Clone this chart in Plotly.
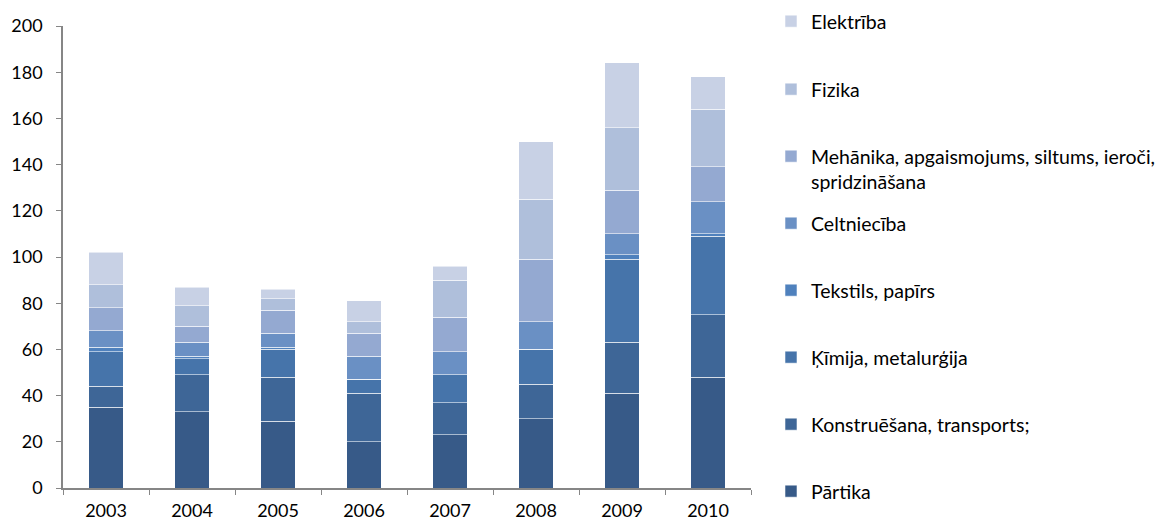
import plotly.graph_objects as go

years = ["2003", "2004", "2005", "2006", "2007", "2008", "2009", "2010"]

partika = [35, 33, 29, 20, 23, 30, 41, 48]
konstruesana = [9, 16, 19, 21, 14, 15, 22, 27]
kimija = [15, 7, 12, 6, 12, 15, 36, 34]
tekstils = [2, 1, 1, 0, 0, 0, 2, 1]
celtnieciba = [7, 6, 6, 10, 10, 12, 9, 14]
mehanika = [10, 7, 10, 10, 15, 27, 19, 15]
fizika = [10, 9, 5, 5, 16, 26, 27, 25]
elektriba = [14, 8, 4, 9, 6, 25, 28, 14]

series = [
    ("Pārtika", partika, "#375a88"),
    ("Konstruēšana, transports;", konstruesana, "#3e6697"),
    ("Ķīmija, metalurģija", kimija, "#4674aa"),
    ("Tekstils, papīrs", tekstils, "#4f81bd"),
    ("Celtniecība", celtnieciba, "#6a90c4"),
    ("Mehānika, apgaismojums, siltums, ieroči,<br>spridzināšana", mehanika, "#94a9d1"),
    ("Fizika", fizika, "#afbfdb"),
    ("Elektrība", elektriba, "#c8d1e5"),
]

# vertical centre of each legend entry's first line, in pixels from the top
legend_rows = [491, 424, 357, 290, 223, 156, 89, 21]

W, H = 1167, 525
FONT = "Lato, 'Open Sans', sans-serif"
FS = 18
LEGEND_FS = 19.5
plot_top, plot_bottom = 26, 488

fig = go.Figure()
legends = {}
for i, ((name, vals, color), row) in enumerate(zip(series, legend_rows)):
    key = "legend" if i == 0 else f"legend{i + 1}"
    fig.add_trace(go.Bar(
        x=years, y=vals, name=name, legend=key,
        marker=dict(color=color, line=dict(color="rgba(255,255,255,0.55)", width=1)),
    ))
    legends[key] = dict(
        xref="container", yref="container",
        x=771 / W, xanchor="left",
        y=1 - (row - 19) / H, yanchor="top",
        valign="top",
        bgcolor="rgba(0,0,0,0)",
        font=dict(family=FONT, size=LEGEND_FS, color="#000000"),
        itemwidth=30,
    )

fig.update_layout(
    barmode="stack",
    bargap=0.6,
    width=W, height=H,
    margin=dict(l=63, r=416, t=plot_top, b=H - plot_bottom, autoexpand=False),
    plot_bgcolor="white", paper_bgcolor="white",
    font=dict(family=FONT, size=FS, color="#000000"),
    showlegend=True,
    **legends,
)
fig.update_xaxes(
    showline=True, linecolor="#868686", linewidth=1.5,
    ticks="outside", tickson="boundaries", ticklen=5, tickcolor="#868686",
    showgrid=False, ticklabelstandoff=6,
    tickfont=dict(family=FONT, size=FS, color="#000000"),
)
fig.update_yaxes(
    range=[0, 200], dtick=20,
    showline=True, linecolor="#868686", linewidth=1.5,
    ticks="outside", ticklen=5, tickcolor="#868686",
    showgrid=False, zeroline=False, ticklabelstandoff=10,
    tickfont=dict(family=FONT, size=FS, color="#000000"),
)

fig.write_html("out.html")
